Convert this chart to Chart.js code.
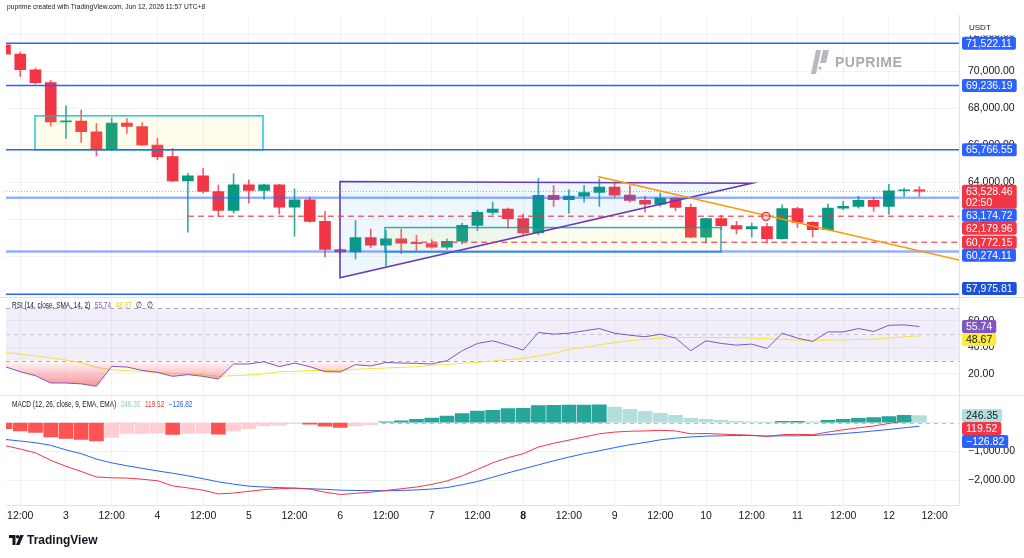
<!DOCTYPE html>
<html>
<head>
<meta charset="utf-8">
<script src="https://cdn.jsdelivr.net/npm/chart.js@4.4.1/dist/chart.umd.min.js"></script>
<style>
  html, body { margin: 0; padding: 0; background: #fff; }
  #wrap { position: relative; width: 1024px; height: 558px; overflow: hidden; font-family: 'Liberation Sans', Arial, sans-serif; }
  #chart { position: absolute; left: 0; top: 0; }
  #header { position: absolute; left: 7px; top: 2px; font-size: 8px; color: #131722; white-space: nowrap; transform: scaleX(0.835); transform-origin: left top; }
  #brand { position: absolute; left: 810px; top: 50px; color: #A8ABB3; font-weight: bold; font-size: 14px; letter-spacing: 0.5px; display: flex; align-items: center; gap: 5px; }
  #tv { position: absolute; left: 9px; top: 533px; color: #131722; font-weight: bold; font-size: 12px; display: flex; align-items: center; gap: 3px; }
</style>
</head>
<body>
<div id="wrap">
  <canvas id="chart" width="1024" height="558"></canvas>
  <div id="header">puprime created with TradingView.com, Jun 12, 2026 11:57 UTC+8</div>
  <div id="brand">
    <svg width="20" height="24" viewBox="0 0 20 24"><path d="M6 0h5l-5 24H1z" fill="#B7BAC1"/><path d="M13 0h6l-3 13h-6z" fill="#B7BAC1"/><circle cx="10" cy="18" r="1.6" fill="#B7BAC1"/></svg>
    <span>PUPRIME</span>
  </div>
  <div id="tv">
    <svg width="15" height="10" viewBox="0 0 15 10"><path d="M0 0h6.5v10h-3V3H0z" fill="#131722"/><circle cx="8.6" cy="1.8" r="1.8" fill="#131722"/><path d="M11.2 0h3.6l-4.3 10H6.9z" fill="#131722"/></svg>
    <span>TradingView</span>
  </div>
</div>
<script>
// 4h candles BTCUSDT, Jun 2 08:00 -> Jun 12 08:00 (UTC+8)
const opens = [71430, 70930, 70086, 69388, 67277, 67315, 66740, 65774, 67208, 67025,
  66026, 65398, 64093, 64362, 63518, 62500, 63878, 63573, 63878, 62675,
  63073, 61907, 60388, 60259, 61032, 60619, 60957, 60726, 60705, 60511,
  60833, 61692, 62391, 62568, 62052, 61279, 63304, 63073, 63266, 63465,
  63749, 63320, 63035, 62836, 63159, 62659, 61048, 62052, 61677, 61494,
  61623, 60978, 62589, 61854, 61462, 62622, 62713, 63035, 62713, 63556, 63610];
const highs = [71480, 71036, 70177, 69517, 68137, 67906, 67186, 67492, 67455, 67240,
  66381, 65844, 64501, 64770, 63878, 64469, 64147, 63900, 63900, 63663,
  63212, 62444, 60450, 61945, 61494, 61408, 61494, 61156, 60925, 60957,
  61816, 62482, 62944, 62622, 62299, 64233, 63840, 63610, 63840, 64200,
  64018, 63840, 63250, 63427, 63180, 62836, 62085, 62230, 61907, 61816,
  61800, 62804, 62660, 61890, 62836, 62982, 63250, 63196, 63910, 63696, 63787];
const lows = [70900, 69731, 69318, 67046, 66381, 66166, 65436, 65720, 66649, 65990,
  65221, 64050, 61317, 63427, 62176, 62353, 62890, 63105, 62300, 61102,
  61860, 59990, 60150, 59883, 60474, 59491, 60173, 60334, 60441, 60388,
  60688, 61408, 62267, 61547, 61193, 61193, 62713, 62353, 62944, 62713,
  63212, 62944, 62407, 62713, 62482, 61010, 60742, 61462, 61225, 61048,
  60742, 60940, 61585, 61064, 61424, 62536, 62622, 62444, 62300, 63250, 63250];
const closes = [70930, 70086, 69388, 67277, 67315, 66740, 65774, 67208, 67025, 66026,
  65398, 64093, 64362, 63518, 62500, 63878, 63573, 63878, 62675, 63073,
  61907, 60388, 60259, 61032, 60619, 60957, 60726, 60705, 60511, 60833,
  61692, 62391, 62568, 62052, 61279, 63304, 63073, 63266, 63465, 63749,
  63320, 63035, 62836, 63159, 62659, 61048, 62052, 61677, 61494, 61623,
  60978, 62589, 61854, 61462, 62622, 62713, 63035, 62713, 63556, 63610, 63528.46];

// RSI(14) and its SMA(14)
const rsi = [25.5, 21.7, 18.7, 13.2, 13.2, 12.5, 10.7, 25.7, 25.2, 22.7,
  21.2, 18.2, 19.5, 18.2, 16.2, 27.5, 27.5, 29.2, 25.5, 28.2,
  25.5, 21.7, 21.5, 27, 26, 28.7, 28.2, 28, 27.5, 30,
  37.5, 43, 45, 41.7, 38, 51.2, 50, 50.7, 52.5, 54.2,
  50.7, 49.2, 48, 50, 47, 37.5, 45, 43, 41.7, 42.5,
  39.2, 50.7, 47, 44.5, 51.7, 51.7, 54.2, 52, 56.7, 57, 55.74];
const rsiMa = [36.2, 35, 33.5, 32, 30.5, 28.5, 25, 23.2, 22.5, 22,
  21, 20.5, 20, 19.5, 18.2, 18.7, 19.2, 20, 21.7, 22,
  22.5, 22.7, 22.5, 23.5, 24, 24.5, 25, 25.5, 26.5, 27.2,
  28, 28.7, 29.8, 30.8, 31.7, 33.5, 35.5, 38.5, 40, 42,
  43.5, 45, 46, 47, 47.5, 47.5, 47.5, 47.5, 47.3, 47,
  46.5, 46, 45.5, 45.3, 45.5, 45.7, 46, 46.2, 47, 48, 48.67];
const rsiBands = [70, 50, 30];

// MACD(12, 26, 9)
const macdHist = [-207, -290, -345, -497, -552, -586, -634, -517, -379, -375,
  -370, -414, -379, -370, -400, -300, -207, -117, -92, -35,
  -57, -126, -172, -115, -69, 23, 57, 115, 161, 230,
  310, 402, 430, 490, 500, 590, 600, 605, 610, 615,
  540, 460, 390, 320, 250, 150, 110, 80, 45, 25,
  10, 40, 45, 30, 80, 110, 150, 170, 210, 252, 246.35];
const macdLine = [-800, -920, -1050, -1310, -1520, -1700, -1890, -1920, -1930, -1970,
  -2020, -2200, -2270, -2350, -2480, -2450, -2390, -2330, -2300, -2280,
  -2310, -2420, -2500, -2460, -2420, -2360, -2300, -2240, -2150, -2030,
  -1850, -1630, -1400, -1220, -1080, -850, -720, -610, -500, -390,
  -330, -300, -290, -270, -290, -390, -380, -400, -420, -440,
  -480, -420, -410, -420, -330, -250, -180, -120, -30, 60, 119.52];
const signalLine = [-586, -640, -700, -790, -950, -1080, -1270, -1400, -1500, -1590,
  -1680, -1760, -1850, -1950, -2060, -2140, -2210, -2240, -2260, -2280,
  -2300, -2320, -2350, -2360, -2365, -2370, -2360, -2340, -2310, -2260,
  -2160, -2050, -1900, -1750, -1610, -1470, -1330, -1200, -1080, -980,
  -870, -770, -690, -600, -540, -500, -470, -460, -450, -450,
  -470, -460, -460, -450, -420, -380, -340, -290, -240, -180, -126.82];

// axes
const tickIdx = [1, 4, 7, 10, 13, 16, 19, 22, 25, 28, 31, 34, 37, 40, 43, 46, 49, 52, 55, 58, 61];
const tickLabels = ['12:00', '3', '12:00', '4', '12:00', '5', '12:00', '6', '12:00', '7', '12:00',
  '8', '12:00', '9', '12:00', '10', '12:00', '11', '12:00', '12', '12:00'];
const weekStart = [34];
const priceTicks = [60000, 62000, 64000, 66000, 68000, 70000, 72000];
const rsiTicks = [20, 40, 60];
const macdTicks = [-2000, -1000, 0];

// drawings
const levelsStrong = [71522.11, 69236.19, 65766.55, 57975.81];
const levelsSoft = [63174.72, 60274.11];
const rayPrices = [62179.96, 60772.15];
const rayStart = [12, 26];
const zoneA = [1.97, 16.93, 67600, 65766.55];
const zoneB = [24.93, 46.98, 61572, 60259];
const triangle = [[21.98, 64055], [49.0, 63964], [21.98, 58863]];
const trendLine = [[38.9, 64324], [63.5, 59650]];
const marker = [49.93, 62176];
const countdown = '02:50';

const UP = '#089981', DOWN = '#F23645', BLUE = '#2962FF';
const idx = closes.map((_, i) => i);
const isUp = idx.map(i => closes[i] >= opens[i]);

const fmt = v => (v < 0 ? '\u2212' : '') + Math.abs(v).toLocaleString('en-US', {minimumFractionDigits: 2, maximumFractionDigits: 2});
const FONT = "'Liberation Sans', Arial, sans-serif";

const histColors = macdHist.map((v, i) => {
  const prev = i > 0 ? macdHist[i - 1] : v - 1;
  if (v >= 0) return v >= prev ? '#26A69A' : '#B2DFDB';
  return v < prev || i === 0 ? '#FF5252' : '#FFCDD2';
});

function hline(ctx, x0, x1, y) {
  ctx.beginPath(); ctx.moveTo(x0, y); ctx.lineTo(x1, y); ctx.stroke();
}

function labelStack(ctx, scale, items, x, bottom) {
  const list = items.map(it => ({...it, h: it.sub ? 24 : 13, top: scale.getPixelForValue(it.value) - 6.5}));
  list.sort((a, b) => a.top - b.top);
  let prev = -Infinity;
  list.forEach(p => { if (p.top < prev) p.top = prev; prev = p.top + p.h; });
  let lim = bottom;
  for (let i = list.length - 1; i >= 0; i--) {
    if (list[i].top + list[i].h > lim) list[i].top = lim - list[i].h;
    lim = list[i].top;
  }
  ctx.font = '10.5px ' + FONT;
  ctx.textBaseline = 'middle';
  ctx.textAlign = 'left';
  list.forEach(p => {
    const w = ctx.measureText(p.text).width + 8;
    ctx.fillStyle = p.bg;
    ctx.beginPath(); ctx.roundRect(x, p.top, w, p.h, 2); ctx.fill();
    ctx.fillStyle = p.fg;
    ctx.fillText(p.text, x + 4, p.top + 7);
    if (p.sub) ctx.fillText(p.sub, x + 4, p.top + 18);
  });
}

// pane legends are narrow in the original, so squeeze them horizontally
function legend(ctx, x, y, parts) {
  ctx.save();
  ctx.translate(x, y);
  ctx.scale(0.76, 1);
  ctx.font = '8.5px ' + FONT;
  ctx.textBaseline = 'middle';
  ctx.textAlign = 'left';
  let cx = 0;
  parts.forEach(([t, c]) => { ctx.fillStyle = c; ctx.fillText(t, cx, 0); cx += ctx.measureText(t).width + 6; });
  ctx.restore();
}

const tvPlugin = {
  id: 'tv',
  beforeDatasetsDraw(chart) {
    const {ctx, chartArea: a, scales} = chart;
    const r = scales.yRsi, m = scales.yMacd;
    ctx.save();
    const y70 = r.getPixelForValue(rsiBands[0]), y30 = r.getPixelForValue(rsiBands[2]);
    ctx.fillStyle = 'rgba(126,87,194,0.1)';
    ctx.fillRect(a.left, y70, a.width, y30 - y70);
    ctx.lineWidth = 1;
    ctx.setLineDash([4, 4]);
    rsiBands.forEach((v, i) => {
      ctx.strokeStyle = i === 1 ? 'rgba(120,123,134,0.35)' : 'rgba(120,123,134,0.6)';
      hline(ctx, a.left, a.right, Math.round(r.getPixelForValue(v)) + 0.5);
    });
    ctx.strokeStyle = 'rgba(120,123,134,0.5)';
    hline(ctx, a.left, a.right, Math.round(m.getPixelForValue(0)) + 0.5);
    ctx.restore();
  },
  afterDatasetsDraw(chart) {
    const {ctx, chartArea: a, scales} = chart;
    const x = scales.x, p = scales.y;
    const X = v => x.getPixelForValue(v), Y = v => p.getPixelForValue(v);
    ctx.save();
    ctx.beginPath(); ctx.rect(a.left, p.top, a.width, p.height); ctx.clip();

    // current price dotted line
    ctx.strokeStyle = 'rgba(242,54,69,0.55)'; ctx.lineWidth = 1; ctx.setLineDash([1, 2]);
    hline(ctx, a.left, a.right, Math.round(Y(closes[closes.length - 1])) + 0.5);
    ctx.setLineDash([]);

    // zones
    [[zoneA, 'rgba(0,188,212,0.85)'], [zoneB, 'rgba(0,151,167,0.8)']].forEach(([z, c]) => {
      const x0 = X(z[0]), x1 = X(z[1]), y0 = Y(z[2]), y1 = Y(z[3]);
      ctx.fillStyle = 'rgba(255,235,59,0.09)';
      ctx.fillRect(x0, y0, x1 - x0, y1 - y0);
      ctx.strokeStyle = c; ctx.lineWidth = 1.5;
      ctx.strokeRect(x0, y0, x1 - x0, y1 - y0);
    });

    // triangle
    ctx.beginPath();
    triangle.forEach(([tx, ty], i) => i ? ctx.lineTo(X(tx), Y(ty)) : ctx.moveTo(X(tx), Y(ty)));
    ctx.closePath();
    ctx.fillStyle = 'rgba(33,150,243,0.08)'; ctx.fill();
    ctx.strokeStyle = '#673AB7'; ctx.lineWidth = 1.6; ctx.stroke();

    // horizontal levels
    ctx.strokeStyle = BLUE; ctx.lineWidth = 1.5;
    levelsStrong.forEach(v => hline(ctx, a.left, a.right, Y(v)));
    ctx.strokeStyle = 'rgba(41,98,255,0.5)'; ctx.lineWidth = 2.5;
    levelsSoft.forEach(v => hline(ctx, a.left, a.right, Y(v)));

    // rays
    ctx.strokeStyle = 'rgba(242,54,69,0.75)'; ctx.lineWidth = 1.5; ctx.setLineDash([6, 4]);
    rayPrices.forEach((v, i) => hline(ctx, X(rayStart[i]), a.right, Y(v)));
    ctx.setLineDash([]);

    // trend line
    ctx.strokeStyle = '#FF9800'; ctx.lineWidth = 1.5;
    ctx.beginPath(); ctx.moveTo(X(trendLine[0][0]), Y(trendLine[0][1])); ctx.lineTo(X(trendLine[1][0]), Y(trendLine[1][1])); ctx.stroke();

    // marker
    ctx.beginPath(); ctx.arc(X(marker[0]), Y(marker[1]), 4, 0, Math.PI * 2);
    ctx.fillStyle = 'rgba(242,54,69,0.2)'; ctx.fill();
    ctx.strokeStyle = DOWN; ctx.lineWidth = 1.3; ctx.stroke();
    ctx.restore();
  },
  afterDraw(chart) {
    const {ctx, chartArea: a, scales} = chart;
    const p = scales.y, r = scales.yRsi, m = scales.yMacd;
    ctx.save();
    // pane separators
    ctx.strokeStyle = '#E0E3EB'; ctx.lineWidth = 1;
    [r.top, m.top].forEach(y => hline(ctx, 0, chart.width, Math.round(y) + 0.5));

    // currency header on the price axis
    ctx.fillStyle = '#fff';
    ctx.fillRect(a.right + 1, a.top, chart.width - a.right - 1, 20);
    ctx.fillStyle = '#131722'; ctx.font = '8px ' + FONT; ctx.textBaseline = 'middle';
    ctx.fillText('USDT', a.right + 10, a.top + 12);

    const bx = a.right + 3;
    const last = closes.length - 1;
    const price = levelsStrong.concat(levelsSoft).map(v => ({value: v, text: fmt(v), bg: v === 57975.81 ? '#1E4FD8' : BLUE, fg: '#fff'}));
    rayPrices.forEach(v => price.push({value: v, text: fmt(v), bg: DOWN, fg: '#fff'}));
    price.push({value: closes[last], text: fmt(closes[last]), sub: countdown, bg: DOWN, fg: '#fff'});
    labelStack(ctx, p, price, bx, p.bottom - 2);

    labelStack(ctx, r, [
      {value: rsi[last], text: fmt(rsi[last]), bg: '#7E57C2', fg: '#fff'},
      {value: rsiMa[last], text: fmt(rsiMa[last]), bg: '#FFEB3B', fg: '#131722'}
    ], bx, r.bottom - 2);

    labelStack(ctx, m, [
      {value: macdHist[last], text: fmt(macdHist[last]), bg: histColors[last], fg: '#131722'},
      {value: macdLine[last], text: fmt(macdLine[last]), bg: DOWN, fg: '#fff'},
      {value: signalLine[last], text: fmt(signalLine[last]), bg: BLUE, fg: '#fff'}
    ], bx, m.bottom - 2);

    legend(ctx, a.left + 6, r.top + 9, [
      ['RSI (14, close, SMA, 14, 2)', '#131722'],
      [fmt(rsi[last]), '#7E57C2'], [fmt(rsiMa[last]), '#E5CF1C'], ['\u2205', '#131722'], ['\u2205', '#131722']
    ]);
    legend(ctx, a.left + 6, m.top + 10, [
      ['MACD (12, 26, close, 9, EMA, EMA)', '#131722'],
      [fmt(macdHist[last]), '#8FCFC6'], [fmt(macdLine[last]), DOWN], [fmt(signalLine[last]), BLUE]
    ]);
    ctx.restore();
  }
};

const grid = {color: 'rgba(42,46,57,0.06)', drawTicks: false};
const yBase = {
  position: 'right', stack: 'panes', grid: grid,
  border: {display: true, color: '#E0E3EB'},
  ticks: {padding: 9, color: '#131722', font: {size: 10.5}, callback: v => fmt(v)},
  afterFit: s => { s.width = 65; }
};

Chart.defaults.font.family = FONT;

new Chart(document.getElementById('chart'), {
  type: 'bar',
  data: {
    datasets: [
      {
        label: 'wick', yAxisID: 'y', grouped: false, barThickness: 1, clip: 0,
        data: idx.map(i => ({x: i, y: [lows[i], highs[i]]})),
        backgroundColor: idx.map(i => isUp[i] ? 'rgba(8,153,129,0.8)' : 'rgba(242,54,69,0.8)')
      },
      {
        label: 'body', yAxisID: 'y', grouped: false, barThickness: 11, minBarLength: 1, clip: 0,
        data: idx.map(i => ({x: i, y: [opens[i], closes[i]]})),
        backgroundColor: idx.map(i => isUp[i] ? UP : DOWN)
      },
      {
        type: 'line', label: 'RSI', yAxisID: 'yRsi', clip: 0,
        data: idx.map(i => ({x: i, y: rsi[i]})),
        borderColor: '#7E57C2', borderWidth: 1, pointRadius: 0, tension: 0,
        fill: {target: {value: 30}, above: 'rgba(0,0,0,0)'},
        backgroundColor: c => {
          const s = c.chart.scales.yRsi;
          if (!s || !c.chart.chartArea) return 'rgba(242,54,69,0.2)';
          const g = c.chart.ctx.createLinearGradient(0, s.getPixelForValue(30), 0, s.getPixelForValue(10));
          g.addColorStop(0, 'rgba(242,54,69,0.03)');
          g.addColorStop(1, 'rgba(242,54,69,0.55)');
          return g;
        }
      },
      {
        type: 'line', label: 'RSI MA', yAxisID: 'yRsi', clip: 0,
        data: idx.map(i => ({x: i, y: rsiMa[i]})),
        borderColor: '#F5E23C', borderWidth: 1, pointRadius: 0, tension: 0, fill: false
      },
      {
        label: 'Histogram', yAxisID: 'yMacd', grouped: false, barThickness: 14, clip: 0,
        data: idx.map(i => ({x: i, y: macdHist[i]})),
        backgroundColor: histColors
      },
      {
        type: 'line', label: 'MACD', yAxisID: 'yMacd', clip: 0,
        data: idx.map(i => ({x: i, y: macdLine[i]})),
        borderColor: '#F23645', borderWidth: 1, pointRadius: 0, tension: 0, fill: false
      },
      {
        type: 'line', label: 'Signal', yAxisID: 'yMacd', clip: 0,
        data: idx.map(i => ({x: i, y: signalLine[i]})),
        borderColor: BLUE, borderWidth: 1, pointRadius: 0, tension: 0, fill: false
      }
    ]
  },
  options: {
    responsive: false,
    animation: false,
    devicePixelRatio: 1,
    layout: {padding: {left: 6, top: 13, right: 0, bottom: 33}},
    plugins: {legend: {display: false}, tooltip: {enabled: false}},
    scales: {
      x: {
        type: 'linear', min: 0.066, max: 62.6, offset: false,
        grid: {color: 'rgba(42,46,57,0.06)', drawTicks: false, offset: false},
        border: {display: true, color: '#E0E3EB'},
        afterBuildTicks: s => { s.ticks = tickIdx.map(v => ({value: v})); },
        afterFit: s => { s.height = 20; },
        ticks: {
          autoSkip: false, maxRotation: 0, padding: 5, color: '#131722',
          font: c => ({size: 10.5, weight: c.tick && weekStart.includes(c.tick.value) ? 'bold' : 'normal'}),
          callback: v => tickLabels[tickIdx.indexOf(v)]
        }
      },
      y: {...yBase, min: 57826, max: 73024, stackWeight: 283,
        afterBuildTicks: s => { s.ticks = priceTicks.map(v => ({value: v})); }},
      yRsi: {...yBase, min: 4.5, max: 78, stackWeight: 98,
        afterBuildTicks: s => { s.ticks = rsiTicks.map(v => ({value: v})); }},
      yMacd: {...yBase, min: -2865, max: 976, stackWeight: 111,
        afterBuildTicks: s => { s.ticks = macdTicks.map(v => ({value: v})); }}
    }
  },
  plugins: [tvPlugin]
});
</script>
</body>
</html>
